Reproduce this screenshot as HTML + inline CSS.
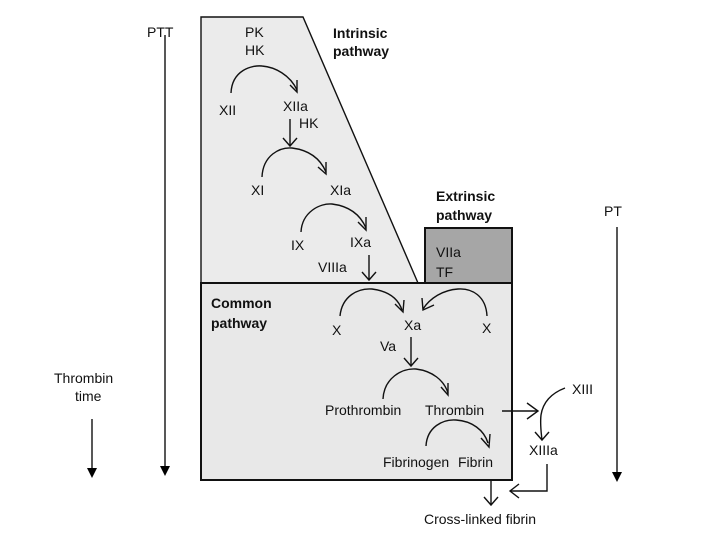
<!DOCTYPE html>
<html><head><meta charset="utf-8"><style>
html,body{margin:0;padding:0;background:#fff;}
svg{display:block;}
text{font-family:"Liberation Sans",sans-serif;font-size:14px;fill:#111;}
.b{font-weight:bold;}
</style></head><body>
<svg width="720" height="540" viewBox="0 0 720 540" xmlns="http://www.w3.org/2000/svg">
<defs>
<marker id="tri" markerWidth="10" markerHeight="10" refX="5" refY="8" orient="auto" markerUnits="userSpaceOnUse" viewBox="0 0 10 10"><path d="M0,0 L10,0 L5,10 z" fill="#000" transform="rotate(-90 5 5)"/></marker>
</defs>
<g fill="none" stroke="#111" stroke-width="1.4">
<!-- intrinsic -->
<polygon points="201,17 303,17 418,283 201,283" fill="#ebebeb" stroke="#111"/>
<!-- common -->
<rect x="201" y="283" width="311" height="197" fill="#e8e8e8" stroke-width="2"/>
<!-- extrinsic -->
<rect x="425" y="228" width="87" height="55" fill="#a6a6a6" stroke-width="2"/>
<line x1="201" y1="283" x2="512" y2="283" stroke-width="2"/>

<!-- timing lines -->
<line x1="165" y1="35" x2="165" y2="466"/>
<polygon points="160,466 170,466 165,476" fill="#000" stroke="none"/>
<line x1="92" y1="419" x2="92" y2="468"/>
<polygon points="87,468 97,468 92,478" fill="#000" stroke="none"/>
<line x1="617" y1="227" x2="617" y2="472"/>
<polygon points="612,472 622,472 617,482" fill="#000" stroke="none"/>

<!-- XII -> XIIa -->
<path d="M231,93 C232,70 252,65 262,66 C275,67 290,75 297,90"/>
<path d="M290,85 L297,92 L297,80"/>
<!-- XIIa down -->
<line x1="290" y1="119" x2="290" y2="146"/>
<path d="M283,138 L290,146 L297,138"/>
<!-- XI -> XIa -->
<path d="M262,177 C263,155 280,147 292,148 C308,150 320,158 326,172"/>
<path d="M318,167 L326,174 L326,162"/>
<!-- IX -> IXa -->
<path d="M301,232 C302,212 320,203 332,204 C348,206 360,214 366,228"/>
<path d="M358,222 L366,230 L366,217"/>
<!-- IXa down to common -->
<line x1="369" y1="255" x2="369" y2="280"/>
<path d="M362,272 L369,280 L376,272"/>
<!-- X -> Xa left -->
<path d="M340,316 C342,296 358,288 372,289 C388,291 398,298 402,310"/>
<path d="M395,304 L403,312 L404,300"/>
<!-- X -> Xa right -->
<path d="M487,316 C486,296 472,288 458,289 C443,290 430,298 423,309"/>
<path d="M422,298 L423,310 L434,305"/>
<!-- Xa down -->
<line x1="411" y1="337" x2="411" y2="366"/>
<path d="M404,358 L411,366 L418,358"/>
<!-- prothrombin -> thrombin -->
<path d="M383,399 C384,378 402,368 416,369 C432,371 444,380 448,393"/>
<path d="M441,387 L448,395 L448,383"/>
<!-- fibrinogen -> fibrin -->
<path d="M426,446 C427,427 443,419 456,420 C472,421 484,430 488,443"/>
<path d="M481,438 L489,447 L490,434"/>
<!-- thrombin -> XIII -->
<line x1="502" y1="411" x2="538" y2="411"/>
<path d="M527,403 L538,411 L527,419"/>
<path d="M565,388 C552,393 543,402 541,415 C540,424 541,432 542,440"/>
<path d="M535,432 L542,440 L549,432"/>
<!-- XIIIa to cross-linked -->
<path d="M547,464 L547,491 L510,491"/>
<path d="M519,484 L510,491 L519,498"/>
<!-- fibrin down -->
<line x1="491" y1="481" x2="491" y2="505"/>
<path d="M484,497 L491,505 L498,497"/>
</g>

<text x="147" y="37">PTT</text>
<text x="604" y="216">PT</text>
<text x="54" y="383">Thrombin</text>
<text x="75" y="401">time</text>

<text x="245" y="37">PK</text>
<text x="245" y="55">HK</text>
<text class="b" x="333" y="38">Intrinsic</text>
<text class="b" x="333" y="56">pathway</text>
<text x="219" y="115">XII</text>
<text x="283" y="111">XIIa</text>
<text x="299" y="128">HK</text>
<text x="251" y="195">XI</text>
<text x="330" y="195">XIa</text>
<text x="291" y="250">IX</text>
<text x="350" y="247">IXa</text>
<text x="318" y="272">VIIIa</text>
<text class="b" x="436" y="201">Extrinsic</text>
<text class="b" x="436" y="220">pathway</text>
<text x="436" y="257">VIIa</text>
<text x="436" y="277">TF</text>
<text class="b" x="211" y="308">Common</text>
<text class="b" x="211" y="328">pathway</text>
<text x="332" y="335">X</text>
<text x="404" y="330">Xa</text>
<text x="482" y="333">X</text>
<text x="380" y="351">Va</text>
<text x="325" y="415">Prothrombin</text>
<text x="425" y="415">Thrombin</text>
<text x="383" y="467">Fibrinogen</text>
<text x="458" y="467">Fibrin</text>
<text x="572" y="394">XIII</text>
<text x="529" y="455">XIIIa</text>
<text x="424" y="524">Cross-linked fibrin</text>
</svg>
</body></html>
